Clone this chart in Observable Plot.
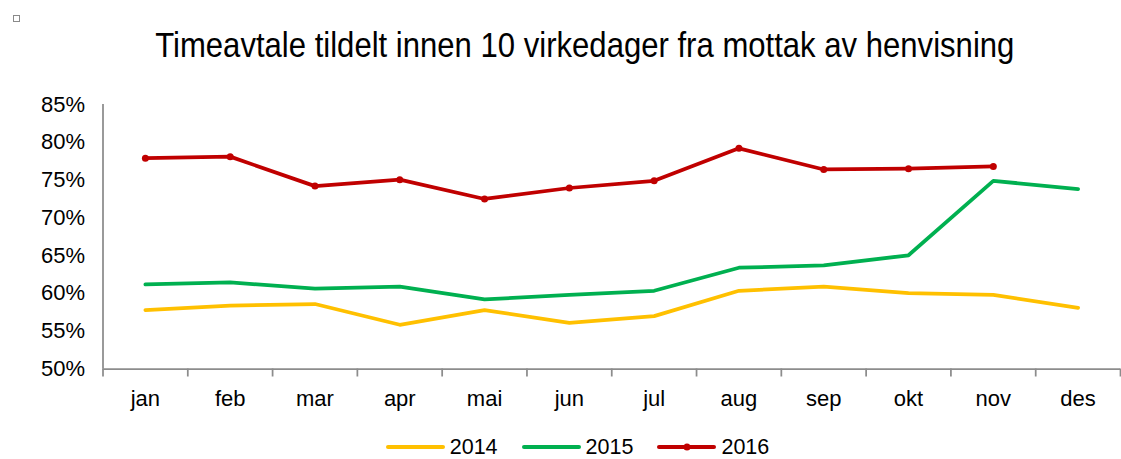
<!DOCTYPE html>
<html>
<head>
<meta charset="utf-8">
<script src="https://cdn.jsdelivr.net/npm/d3@7"></script>
<script src="https://cdn.jsdelivr.net/npm/@observablehq/plot@0.6"></script>
<style>
  html, body { margin: 0; padding: 0; background: #fff; }
  body { width: 1121px; height: 459px; overflow: hidden; position: relative; font-family: "Liberation Sans", Arial, sans-serif; }
  #icon { position: absolute; left: 13px; top: 15px; width: 5px; height: 5px; border: 1px solid #8a8a8a; background: #fff; }
  #title { height: 40.5px; padding-top: 24.5px; line-height: 40px; text-align: center; color: #000; white-space: nowrap; }
  #title span { display: inline-block; font-size: 35px; transform: scaleX(0.888); transform-origin: 50% 50%; margin-left: 49px; }
  #legend { display: flex; justify-content: center; padding-top: 11px; height: 22px; line-height: 22px; font-size: 21.5px; color: #000; padding-left: 34px; }
  .item { display: flex; align-items: center; margin: 0 12px; }
  .item svg { margin-right: 5px; }
</style>
</head>
<body>
<div id="icon"></div>
<div id="title"><span>Timeavtale tildelt innen 10 virkedager fra mottak av henvisning</span></div>
<div id="chart"></div>
<div id="legend"></div>
<script>
const months = ["jan","feb","mar","apr","mai","jun","jul","aug","sep","okt","nov","des"];
const years = ["2014","2015","2016"];
const v2014 = [57.8, 58.4, 58.6, 55.85, 57.8, 56.1, 57.0, 60.35, 60.9, 60.05, 59.8, 58.1];
const v2015 = [61.2, 61.45, 60.65, 60.9, 59.2, 59.8, 60.35, 63.4, 63.7, 65.05, 74.9, 73.8];
const v2016 = [77.9, 78.1, 74.2, 75.05, 72.5, 73.95, 74.9, 79.2, 76.4, 76.5, 76.8, null];
const yTicks = [50, 55, 60, 65, 70, 75, 80, 85];
const colors = {"2014": "#FFC000", "2015": "#00B050", "2016": "#C00000"};

const series = {"2014": v2014, "2015": v2015, "2016": v2016};
const rows = [];
for (const y of years) {
  series[y].forEach((v, i) => { if (v != null) rows.push({i, month: months[i], year: y, value: v}); });
}
const axisColor = "#8c8c8c";

const chart = Plot.plot({
  width: 1121,
  height: 360,
  marginLeft: 102.5,
  marginRight: 1,
  marginTop: 39,
  marginBottom: 56.5,
  x: {domain: [0, 12], axis: null, label: null},
  y: {domain: [50, 85], axis: null, label: null},
  style: {fontFamily: "'Liberation Sans', Arial, sans-serif", fontSize: "22px", color: "#000", background: "#fff"},
  marks: [
    Plot.axisY({ticks: yTicks, tickSize: 0, tickPadding: 18, tickFormat: d => `${d}%`, fontSize: 22, label: null}),
    Plot.axisX({ticks: d3.range(13), tickSize: 8, tickFormat: () => "", stroke: axisColor, strokeWidth: 1.75, label: null}),
    Plot.axisX({ticks: months.map((m, i) => i + 0.5), tickSize: 0, tickPadding: 21, tickFormat: d => months[Math.floor(d)], fontSize: 22, label: null}),
    Plot.ruleX([0], {stroke: axisColor, strokeWidth: 1.75}),
    Plot.ruleY([50], {stroke: axisColor, strokeWidth: 1.75}),
    Plot.line(rows, {x: d => d.i + 0.5, y: "value", z: "year", stroke: d => colors[d.year], strokeWidth: 3.75, strokeLinejoin: "round", strokeLinecap: "round"}),
    Plot.dot(rows.filter(d => d.year === "2016"), {x: d => d.i + 0.5, y: "value", r: 3.5, fill: colors["2016"], stroke: "none"})
  ]
});
document.getElementById("chart").appendChild(chart);

const legend = document.getElementById("legend");
for (const y of years) {
  const item = document.createElement("div");
  item.className = "item";
  const marker = y === "2016" ? `<circle cx="30" cy="5" r="3.5" fill="${colors[y]}"/>` : "";
  item.innerHTML = `<svg width="59" height="10"><line x1="2" x2="57" y1="5" y2="5" stroke="${colors[y]}" stroke-width="4" stroke-linecap="round"/>${marker}</svg><span>${y}</span>`;
  legend.appendChild(item);
}
</script>
</body>
</html>
